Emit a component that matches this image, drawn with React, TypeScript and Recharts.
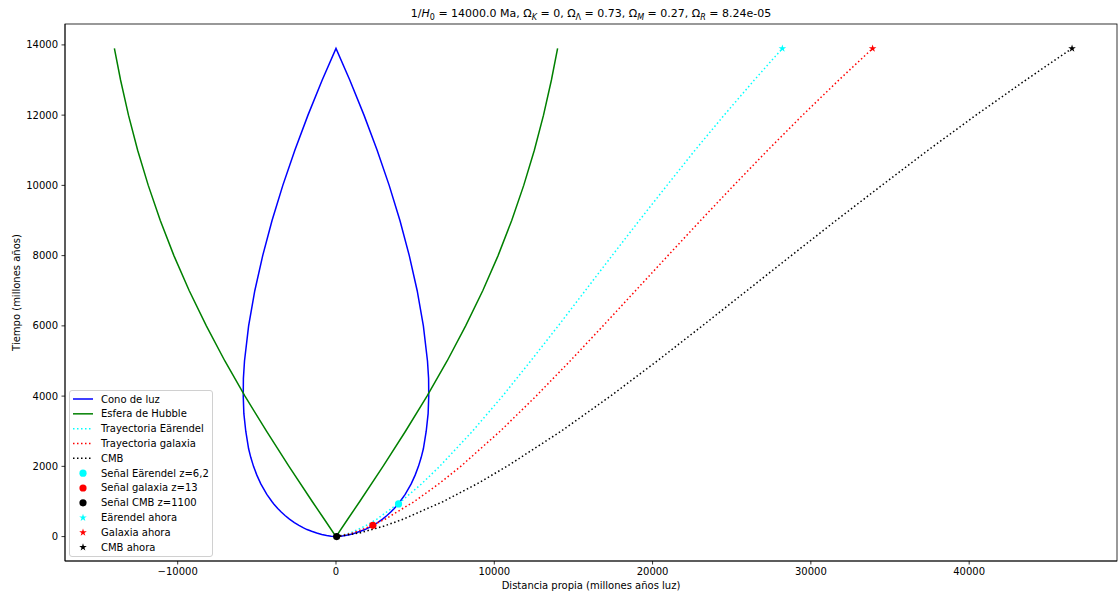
import React from 'react';
import { ComposedChart, Line, Scatter, XAxis, YAxis } from 'recharts';

// cono de luz (rama derecha; la izquierda es su reflejo)
const coneT = [0, 10, 30, 60, 100, 150, 200, 250, 320, 400, 500, 600, 700, 800, 930, 1000, 1200, 1500, 1750, 2000, 2250, 2500, 3000, 3500, 4000, 4500, 5000, 6000, 7000, 8000, 9000, 10000, 11000, 12000, 13000, 13900];
const coneD = [0, 300, 590, 900, 1220, 1540, 1830, 2050, 2340, 2630, 2940, 3220, 3460, 3680, 3930, 4050, 4370, 4750, 5000, 5210, 5380, 5520, 5700, 5820, 5860, 5850, 5780, 5520, 5130, 4630, 4040, 3360, 2600, 1770, 870, 0];

// esfera de Hubble (radio c/H)
const hubbleT = [0, 500, 1000, 2000, 3000, 4000, 5000, 6000, 7000, 8000, 9000, 10000, 11000, 12000, 13000, 13900];
const hubbleD = [0, 750, 1500, 2970, 4390, 5750, 7020, 8190, 9270, 10240, 11100, 11860, 12530, 13110, 13610, 14000];

// trayectorias (distancia propia frente a tiempo)
const trajT = [0, 100, 300, 500, 1000, 1500, 2000, 3000, 4000, 5000, 6000, 7000, 8000, 9000, 10000, 11000, 12000, 13000, 13900];
const earendelD = [0, 890, 1840, 2590, 4110, 5400, 6550, 8620, 10520, 12300, 14040, 15740, 17440, 19160, 20910, 22680, 24520, 26430, 28200];
const galaxyD = [0, 1060, 2210, 3120, 4950, 6490, 7880, 10370, 12640, 14790, 16870, 18920, 20970, 23030, 25130, 27270, 29480, 31770, 33900];
const cmbD = [0, 1460, 3040, 4270, 6780, 8900, 10800, 14220, 17340, 20290, 23140, 25950, 28760, 31590, 34480, 37400, 40430, 43580, 46500];

// señales recibidas y posiciones actuales
const signalD = [3950, 2330, 40];
const signalT = [930, 320, 0];
const nowD = [28200, 33900, 46500];
const nowT = [13900, 13900, 13900];

const xTicks = [-10000, 0, 10000, 20000, 30000, 40000];
const yTicks = [0, 2000, 4000, 6000, 8000, 10000, 12000, 14000];

const BLUE = '#0000ff';
const GREEN = '#008000';
const CYAN = '#00ffff';
const RED = '#ff0000';
const BLACK = '#000000';

const xDomain = [-17120, 49340];
const yDomain = [-695, 14595];

const conePoints = [
  ...coneT.map((t, i) => ({ d: coneD[i], t })),
  ...coneT.map((t, i) => ({ d: -coneD[i], t })).reverse(),
];
const hubblePoints = [
  ...hubbleT.map((t, i) => ({ d: -hubbleD[i], t })).reverse(),
  ...hubbleT.map((t, i) => ({ d: hubbleD[i], t })),
];
const track = (ds: number[]) => trajT.map((t, i) => ({ d: ds[i], t }));

const fmt = (v: number) => (v < 0 ? '\u2212' + Math.abs(v) : String(v));

function starPoints(cx: number, cy: number, r: number) {
  const pts: string[] = [];
  for (let i = 0; i < 10; i++) {
    const rr = i % 2 === 0 ? r : r * 0.382;
    const a = -Math.PI / 2 + (i * Math.PI) / 5;
    pts.push(`${cx + rr * Math.cos(a)},${cy + rr * Math.sin(a)}`);
  }
  return pts.join(' ');
}

const dot = (color: string) => (p: any) => <circle cx={p.cx} cy={p.cy} r={3.6} fill={color} />;
const star = (color: string) => (p: any) => <polygon points={starPoints(p.cx, p.cy, 4)} fill={color} />;

const legendItems = [
  { label: 'Cono de luz', color: BLUE, kind: 'line' },
  { label: 'Esfera de Hubble', color: GREEN, kind: 'line' },
  { label: 'Trayectoria Eärendel', color: CYAN, kind: 'dots' },
  { label: 'Trayectoria galaxia', color: RED, kind: 'dots' },
  { label: 'CMB', color: BLACK, kind: 'dots' },
  { label: 'Señal Eärendel z=6,2', color: CYAN, kind: 'circle' },
  { label: 'Señal galaxia z=13', color: RED, kind: 'circle' },
  { label: 'Señal CMB z=1100', color: BLACK, kind: 'circle' },
  { label: 'Eärendel ahora', color: CYAN, kind: 'star' },
  { label: 'Galaxia ahora', color: RED, kind: 'star' },
  { label: 'CMB ahora', color: BLACK, kind: 'star' },
];

const sub = { fontSize: 8, dy: 2.5 };

export default function App() {
  const tickStyle = { fill: '#000', fontSize: 10 };
  return (
    <div style={{ position: 'absolute', left: 0, top: 0, width: 1118, height: 599, fontFamily: 'DejaVu Sans', background: '#fff' }}>
      <ComposedChart width={1118} height={599} margin={{ top: 24, right: 1, bottom: 0, left: 0 }}>
        <XAxis
          type="number"
          dataKey="d"
          domain={xDomain}
          ticks={xTicks}
          allowDataOverflow
          height={38}
          tickSize={3.5}
          tickMargin={3.5}
          tick={tickStyle}
          tickFormatter={fmt}
          axisLine={{ stroke: '#000', strokeWidth: 0.8 }}
          tickLine={{ stroke: '#000', strokeWidth: 0.8 }}
        />
        <YAxis
          type="number"
          dataKey="t"
          domain={yDomain}
          ticks={yTicks}
          allowDataOverflow
          width={65}
          tickSize={3.5}
          tickMargin={3.5}
          tick={tickStyle}
          tickFormatter={fmt}
          axisLine={{ stroke: '#000', strokeWidth: 0.8 }}
          tickLine={{ stroke: '#000', strokeWidth: 0.8 }}
        />

        <Line data={conePoints} dataKey="t" type="linear" stroke={BLUE} strokeWidth={1.5} dot={false} isAnimationActive={false} />
        <Line data={hubblePoints} dataKey="t" type="linear" stroke={GREEN} strokeWidth={1.5} dot={false} isAnimationActive={false} />
        <Line data={track(earendelD)} dataKey="t" type="linear" stroke={CYAN} strokeWidth={1.5} strokeDasharray="1.5 2.5" dot={false} isAnimationActive={false} />
        <Line data={track(galaxyD)} dataKey="t" type="linear" stroke={RED} strokeWidth={1.5} strokeDasharray="1.5 2.5" dot={false} isAnimationActive={false} />
        <Line data={track(cmbD)} dataKey="t" type="linear" stroke={BLACK} strokeWidth={1.5} strokeDasharray="1.5 2.5" dot={false} isAnimationActive={false} />

        <Scatter data={[{ d: signalD[0], t: signalT[0] }]} dataKey="t" shape={dot(CYAN)} isAnimationActive={false} />
        <Scatter data={[{ d: signalD[1], t: signalT[1] }]} dataKey="t" shape={dot(RED)} isAnimationActive={false} />
        <Scatter data={[{ d: signalD[2], t: signalT[2] }]} dataKey="t" shape={dot(BLACK)} isAnimationActive={false} />
        <Scatter data={[{ d: nowD[0], t: nowT[0] }]} dataKey="t" shape={star(CYAN)} isAnimationActive={false} />
        <Scatter data={[{ d: nowD[1], t: nowT[1] }]} dataKey="t" shape={star(RED)} isAnimationActive={false} />
        <Scatter data={[{ d: nowD[2], t: nowT[2] }]} dataKey="t" shape={star(BLACK)} isAnimationActive={false} />
      </ComposedChart>

      <svg width={1118} height={599} style={{ position: 'absolute', left: 0, top: 0, pointerEvents: 'none' }}>
        <rect x={65} y={24} width={1052} height={537} fill="none" stroke="#000" strokeWidth={0.8} />
        <text x={591} y={17} textAnchor="middle" fontSize={11} fill="#000">
          1/<tspan fontStyle="italic">H</tspan>
          <tspan {...sub}>0</tspan>
          <tspan dy={-2.5}> = 14000.0 Ma, Ω</tspan>
          <tspan {...sub} fontStyle="italic">K</tspan>
          <tspan dy={-2.5}> = 0, Ω</tspan>
          <tspan {...sub}>Λ</tspan>
          <tspan dy={-2.5}> = 0.73, Ω</tspan>
          <tspan {...sub} fontStyle="italic">M</tspan>
          <tspan dy={-2.5}> = 0.27, Ω</tspan>
          <tspan {...sub} fontStyle="italic">R</tspan>
          <tspan dy={-2.5}> = 8.24e-05</tspan>
        </text>
        <text x={591} y={589} textAnchor="middle" fontSize={10} fill="#000">Distancia propia (millones años luz)</text>
        <text transform="translate(19.5,292.5) rotate(-90)" textAnchor="middle" fontSize={10} fill="#000">Tiempo (millones años)</text>

        <g>
          <rect x={69.5} y={390.5} width={143} height={166} rx={2.5} fill="#fff" fillOpacity={0.8} stroke="#d0d0d0" />
          {legendItems.map((it, i) => {
            const cy = 399 + i * 14.83;
            return (
              <g key={it.label}>
                {it.kind === 'line' && <line x1={73} x2={93} y1={cy} y2={cy} stroke={it.color} strokeWidth={1.5} />}
                {it.kind === 'dots' && <line x1={73} x2={93} y1={cy} y2={cy} stroke={it.color} strokeWidth={1.5} strokeDasharray="1.5 2.5" />}
                {it.kind === 'circle' && <circle cx={83} cy={cy} r={3.6} fill={it.color} />}
                {it.kind === 'star' && <polygon points={starPoints(83, cy, 4)} fill={it.color} />}
                <text x={101} y={cy} dy="0.35em" fontSize={10} fill="#000">{it.label}</text>
              </g>
            );
          })}
        </g>
      </svg>
    </div>
  );
}
